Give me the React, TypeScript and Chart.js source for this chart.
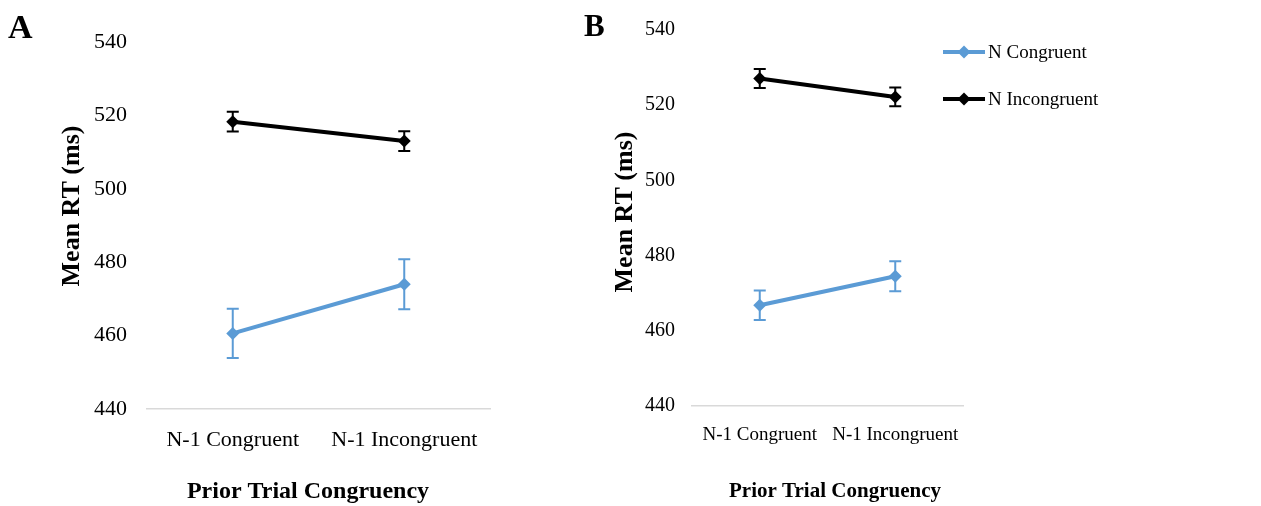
import React, { useEffect, useRef } from 'react';
import { Chart, registerables } from 'chart.js';

Chart.register(...registerables);

const categories = ['N-1 Congruent', 'N-1 Incongruent'];
const seriesNames = ['N Congruent', 'N Incongruent'];
const seriesColors = ['#5B9BD5', '#000000'];
const yMin = 440;
const yMax = 540;
const yStep = 20;

const congruentA = [460.6, 474.0];
const congruentErrA = [6.7, 6.8];
const incongruentA = [518.3, 513.0];
const incongruentErrA = [2.7, 2.7];

const congruentB = [466.8, 474.5];
const congruentErrB = [3.9, 4.0];
const incongruentB = [527.1, 522.2];
const incongruentErrB = [2.5, 2.5];

const SERIF = '"Liberation Serif", "Times New Roman", serif';

const errorBarPlugin = {
  id: 'errorBars',
  beforeDatasetsDraw(chart: any) {
    const ctx = chart.ctx;
    const y = chart.scales.y;
    chart.data.datasets.forEach((ds: any, i: number) => {
      const meta = chart.getDatasetMeta(i);
      const errs = ds.errors;
      if (!errs) return;
      ctx.save();
      ctx.strokeStyle = ds.borderColor;
      ctx.lineWidth = 2;
      meta.data.forEach((pt: any, j: number) => {
        const v = ds.data[j];
        const top = y.getPixelForValue(v + errs[j]);
        const bot = y.getPixelForValue(v - errs[j]);
        const x = pt.x;
        ctx.beginPath();
        ctx.moveTo(x, top);
        ctx.lineTo(x, bot);
        ctx.moveTo(x - 6, top);
        ctx.lineTo(x + 6, top);
        ctx.moveTo(x - 6, bot);
        ctx.lineTo(x + 6, bot);
        ctx.stroke();
      });
      ctx.restore();
    });
  },
};

const textPlugin = {
  id: 'panelText',
  afterDraw(chart: any, _args: any, opts: any) {
    const ctx = chart.ctx;
    ctx.save();
    ctx.fillStyle = '#000';
    ctx.font = `bold ${opts.letterSize}px ${SERIF}`;
    ctx.textAlign = 'left';
    ctx.textBaseline = 'alphabetic';
    ctx.fillText(opts.letter, opts.letterX, opts.letterY);
    ctx.font = `bold ${opts.xTitleSize}px ${SERIF}`;
    ctx.textAlign = 'center';
    ctx.fillText(opts.xTitle, opts.xTitleX, opts.xTitleY);
    ctx.font = `bold ${opts.yTitleSize}px ${SERIF}`;
    ctx.translate(opts.yTitleX, opts.yTitleY);
    ctx.rotate(-Math.PI / 2);
    ctx.textAlign = 'center';
    ctx.textBaseline = 'middle';
    ctx.fillText(opts.yTitle, 0, 0);
    ctx.restore();

    if (opts.legend) {
      const L = opts.legend;
      ctx.save();
      chart.data.datasets.forEach((ds: any, i: number) => {
        const yy = L.y + i * L.rowGap;
        ctx.strokeStyle = ds.borderColor;
        ctx.lineWidth = 4;
        ctx.beginPath();
        ctx.moveTo(L.x, yy);
        ctx.lineTo(L.x + L.lineLen, yy);
        ctx.stroke();
        const cx = L.x + L.lineLen / 2;
        const r = 6.5;
        ctx.fillStyle = ds.borderColor;
        ctx.beginPath();
        ctx.moveTo(cx, yy - r);
        ctx.lineTo(cx + r, yy);
        ctx.lineTo(cx, yy + r);
        ctx.lineTo(cx - r, yy);
        ctx.closePath();
        ctx.fill();
        ctx.fillStyle = '#000';
        ctx.font = `${L.size}px ${SERIF}`;
        ctx.textAlign = 'left';
        ctx.textBaseline = 'middle';
        ctx.fillText(ds.label, L.x + L.lineLen + 3, yy + 1);
      });
      ctx.restore();
    }
  },
};

function makeConfig(
  cong: number[],
  congErr: number[],
  incong: number[],
  incongErr: number[],
  cfg: any
) {
  return {
    type: 'line' as const,
    data: {
      labels: categories,
      datasets: [
        {
          label: seriesNames[0],
          data: cong,
          errors: congErr,
          borderColor: seriesColors[0],
          backgroundColor: seriesColors[0],
          borderWidth: 4,
          pointStyle: 'rectRot',
          pointRadius: 6.5,
          pointBorderWidth: 0,
          tension: 0,
        },
        {
          label: seriesNames[1],
          data: incong,
          errors: incongErr,
          borderColor: seriesColors[1],
          backgroundColor: seriesColors[1],
          borderWidth: 4,
          pointStyle: 'rectRot',
          pointRadius: 6.5,
          pointBorderWidth: 0,
          tension: 0,
        },
      ],
    },
    options: {
      animation: false,
      responsive: false,
      maintainAspectRatio: false,
      layout: { padding: cfg.padding },
      plugins: {
        legend: { display: false },
        tooltip: { enabled: false },
        panelText: cfg.text,
      },
      scales: {
        x: {
          offset: true,
          grid: { display: false, drawTicks: false },
          border: { display: true, color: '#d9d9d9', width: 1.5 },
          ticks: {
            color: '#000',
            padding: cfg.xTickPad,
            font: { family: SERIF, size: cfg.tickSize },
            maxRotation: 0,
            autoSkip: false,
          },
          afterFit: (s: any) => {
            s.height = cfg.xAxisHeight;
          },
        },
        y: {
          min: yMin,
          max: yMax,
          grid: { display: false, drawTicks: false },
          border: { display: false },
          ticks: {
            stepSize: yStep,
            color: '#000',
            padding: cfg.yTickPad,
            font: { family: SERIF, size: cfg.yTickSize },
          },
          afterFit: (s: any) => {
            s.width = cfg.yAxisWidth;
          },
        },
      },
    },
    plugins: [errorBarPlugin, textPlugin],
  };
}

function Panel(props: any) {
  const ref = useRef<HTMLCanvasElement>(null);
  useEffect(() => {
    if (!ref.current) return;
    const chart = new Chart(ref.current, props.config as any);
    return () => chart.destroy();
  }, []);
  return (
    <canvas
      ref={ref}
      width={props.width}
      height={506}
      style={{ position: 'absolute', left: props.left, top: 0, width: props.width, height: 506 }}
    />
  );
}

export default function App() {
  const configA = makeConfig(congruentA, congruentErrA, incongruentA, incongruentErrA, {
    padding: { left: 0, right: 80, top: 42, bottom: 0 },
    xAxisHeight: 97,
    yAxisWidth: 147,
    xTickPad: 18,
    yTickPad: 20,
    tickSize: 22,
    yTickSize: 22,
    text: {
      letter: 'A',
      letterSize: 34,
      letterX: 8,
      letterY: 38,
      xTitle: 'Prior Trial Congruency',
      xTitleSize: 24,
      xTitleX: 308,
      xTitleY: 498,
      yTitle: 'Mean RT (ms)',
      yTitleSize: 26,
      yTitleX: 72,
      yTitleY: 206,
    },
  });
  const configB = makeConfig(congruentB, congruentErrB, incongruentB, incongruentErrB, {
    padding: { left: 0, right: 298, top: 30, bottom: 0 },
    xAxisHeight: 100,
    yAxisWidth: 112,
    xTickPad: 18,
    yTickPad: 17,
    tickSize: 19,
    yTickSize: 20,
    text: {
      letter: 'B',
      letterSize: 31,
      letterX: 4,
      letterY: 36,
      xTitle: 'Prior Trial Congruency',
      xTitleSize: 21,
      xTitleX: 255,
      xTitleY: 497,
      yTitle: 'Mean RT (ms)',
      yTitleSize: 26,
      yTitleX: 45,
      yTitleY: 212,
      legend: { x: 363, y: 52, rowGap: 47, lineLen: 42, size: 19 },
    },
  });
  return (
    <div style={{ position: 'absolute', left: 0, top: 0, width: 1261, height: 506, background: '#fff', overflow: 'hidden' }}>
      <Panel config={configA} left={0} width={570} />
      <Panel config={configB} left={580} width={681} />
    </div>
  );
}
